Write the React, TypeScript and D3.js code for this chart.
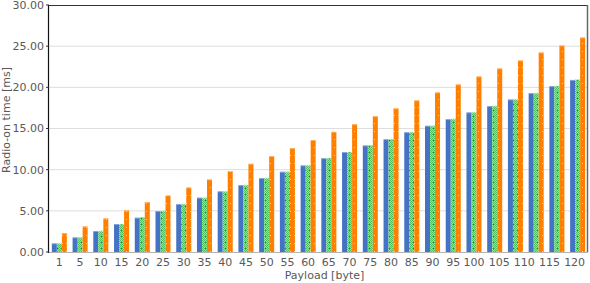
import * as d3 from "d3";

// tick labels along the payload axis (there is one bar group more than labels)
const payloadTicks = ["1", "5", "10", "15", "20", "25", "30", "35", "40", "45", "50", "55", "60",
  "65", "70", "75", "80", "85", "90", "95", "100", "105", "110", "115", "120"];

const blueSeries = [1.05, 1.78, 2.55, 3.4, 4.17, 4.98, 5.83, 6.6, 7.37, 8.13, 8.98, 9.75, 10.52,
  11.4, 12.14, 12.95, 13.7, 14.56, 15.33, 16.14, 16.96, 17.72, 18.53, 19.3, 20.15, 20.9];
const greenSeries = [1.05, 1.8, 2.57, 3.4, 4.25, 5.0, 5.85, 6.6, 7.37, 8.15, 9.0, 9.77, 10.55,
  11.42, 12.15, 12.98, 13.72, 14.58, 15.35, 16.18, 16.98, 17.75, 18.55, 19.32, 20.17, 20.95];
const orangeSeries = [2.3, 3.12, 4.09, 5.06, 6.07, 6.88, 7.85, 8.82, 9.83, 10.72, 11.65, 12.62, 13.6,
  14.6, 15.53, 16.5, 17.45, 18.42, 19.39, 20.36, 21.33, 22.3, 23.27, 24.24, 25.09, 26.06];

const yTicks = [0, 5, 10, 15, 20, 25, 30];

export default function App() {
  const width = 590;
  const height = 283;
  const margin = { top: 5, right: 2, bottom: 31, left: 49 };
  const font = "DejaVu Sans, sans-serif";
  const textColor = "#595959";

  const groups = d3.range(blueSeries.length);
  const series = [
    { key: "blue", values: blueSeries, fill: "#4472c4" },
    { key: "green", values: greenSeries, fill: "url(#greenPat)" },
    { key: "orange", values: orangeSeries, fill: "url(#orangePat)" },
  ];

  const x = d3.scaleBand<number>()
    .domain(groups)
    .range([margin.left, width - margin.right])
    .paddingInner(0.275)
    .paddingOuter(0.1375);
  const xSub = d3.scaleBand<string>()
    .domain(series.map(s => s.key))
    .range([0, x.bandwidth()]);
  const y = d3.scaleLinear().domain([0, 30]).range([height - margin.bottom, margin.top]);

  const center = (i: number) => (x(i) ?? 0) + x.bandwidth() / 2;
  // labels up to 100 sit under their groups, the 3-digit ones are spread over the tail
  const tailStart = 20;
  const tail = d3.scalePoint<number>()
    .domain(d3.range(tailStart, payloadTicks.length))
    .range([center(tailStart), center(groups.length - 1) - x.bandwidth() / 5]);
  const labelX = (i: number) => (i < tailStart ? center(i) : tail(i) ?? 0);

  const x0 = margin.left;
  const x1 = width - margin.right;

  return (
    <svg width={width} height={height} style={{ position: "absolute", left: 0, top: 0 }}>
      <defs>
        <pattern id="greenPat" patternUnits="userSpaceOnUse" width={4} height={6}>
          <rect width={4} height={6} fill="#9edba5" />
          {d3.range(6).map(r =>
            d3.range(2).map(c => (
              <rect key={`g${r}-${c}`} x={c * 2 + (r % 2)} y={r} width={1} height={1} fill="#4fbf60" />
            ))
          )}
          <rect x={1} y={2} width={1} height={1} fill="#178a2c" />
        </pattern>
        <pattern id="orangePat" patternUnits="userSpaceOnUse" width={4} height={8}>
          <rect width={4} height={8} fill="#ff8000" />
          <rect x={2} y={3} width={1} height={1} fill="#ffc896" />
        </pattern>
      </defs>

      {yTicks.filter(t => t > 0 && t < 30).map(t => (
        <line key={`grid-${t}`} x1={x0} x2={x1} y1={y(t)} y2={y(t)} stroke="#dedede" strokeWidth={1} />
      ))}

      {series.map(s => (
        <g key={s.key}>
          {s.values.map((v, i) => {
            const bx = (x(i) ?? 0) + (xSub(s.key) ?? 0);
            return (
              <g key={`${s.key}-${i}`}>
                <rect x={bx} y={y(v)} width={xSub.bandwidth()} height={y(0) - y(v)} fill={s.fill} />
                <rect x={bx} y={y(v)} width={xSub.bandwidth()} height={1} fill="#ffffff" opacity={0.35} />
              </g>
            );
          })}
        </g>
      ))}

      {/* frame */}
      <line x1={x0} x2={x1} y1={y(30) + 0.5} y2={y(30) + 0.5} stroke="#333" strokeWidth={1.2} />
      <line x1={x1 - 0.5} x2={x1 - 0.5} y1={y(30)} y2={y(0)} stroke="#666" strokeWidth={1.5} />
      <line x1={x0} x2={x1} y1={y(0) + 0.5} y2={y(0) + 0.5} stroke="#b4b4b4" strokeWidth={1.2} />
      <line x1={x0 - 0.5} x2={x0 - 0.5} y1={y(30)} y2={y(0) + 1} stroke="#111" strokeWidth={1.2} />

      {yTicks.map(t => (
        <g key={`yt-${t}`}>
          <line x1={x0 - 3} x2={x0} y1={y(t)} y2={y(t)} stroke="#333" />
          <text x={x0 - 5} y={y(t)} dy="0.35em" textAnchor="end" fontFamily={font} fontSize={11} fill={textColor}>
            {d3.format(".2f")(t)}
          </text>
        </g>
      ))}

      {payloadTicks.map((label, i) => (
        <text key={`xt-${label}`} x={labelX(i)} y={y(0) + 14} textAnchor="middle"
          fontFamily={font} fontSize={11} fill={textColor}>
          {label}
        </text>
      ))}

      <text x={(x0 + x1) / 2 + 6} y={height - 4} textAnchor="middle" fontFamily={font} fontSize={11} fill={textColor}>
        Payload [byte]
      </text>
      <text transform={`translate(10, ${y(0) - 132}) rotate(-90)`} textAnchor="middle"
        fontFamily={font} fontSize={11} fill={textColor}>
        Radio-on time [ms]
      </text>
    </svg>
  );
}
